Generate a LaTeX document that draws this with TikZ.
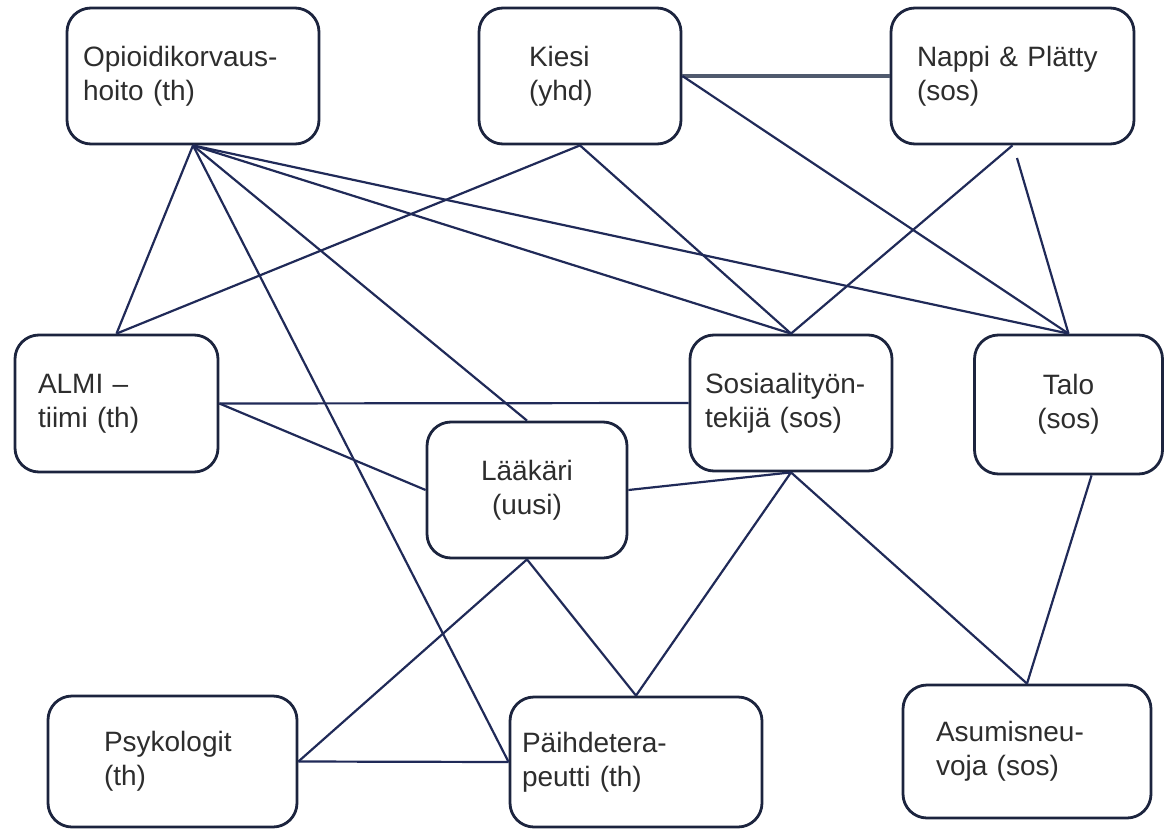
\documentclass[tikz,border=0pt]{standalone}
\usepackage{fontspec}
\setmainfont{Liberation Sans}
\usepackage{tikz}
\definecolor{linkcol}{RGB}{32,42,88}
\definecolor{boxcol}{RGB}{28,36,62}
\definecolor{textcol}{RGB}{45,45,45}
\definecolor{graylink}{RGB}{80,90,110}

\begin{document}
\begin{tikzpicture}[x=0.5pt, y=-0.5pt,
    box/.style={draw=boxcol, line width=1.4pt, rounded corners=12pt, text=textcol,
      font=\fontsize{14pt}{17pt}\selectfont, inner ysep=0pt, minimum height=68pt},
    link/.style={draw=linkcol, line width=1.1pt}]
    \useasboundingbox (0,0) rectangle (1166,829);
    % top row
    \node (opio) [box, align=left, text width=110pt, inner xsep=8pt] at (193,76) {Opioidikorvaus-\\hoito (th)};
    \node (kiesi) [box, align=left, text width=51pt, inner xsep=25pt] at (580,76) {Kiesi\\(yhd)};
    \node (nappi) [box, align=left, text width=95.5pt, inner xsep=13pt] at (1012.5,76) {Nappi \& Plätty\\(sos)};
    % middle row
    \node (almi) [box, align=left, text width=78.5pt, inner xsep=11.5pt, minimum height=68.5pt] at (116.5,403.5) {ALMI --\\tiimi (th)};
    \node (sos) [box, align=left, text width=86pt, inner xsep=7.5pt] at (791,403) {Sosiaalityön-\\tekijä (sos)};
    \node (talo) [box, align=center, minimum width=94pt, minimum height=69.5pt] at (1068.5,404.5) {Talo\\(sos)};
    \node (laakari) [box, align=center, minimum width=100pt] at (527,490) {Lääkäri\\(uusi)};
    % bottom row
    \node (psyk) [box, align=left, text width=68.5pt, inner xsep=28pt, minimum height=65.5pt] at (172.5,761.5) {Psykologit\\(th)};
    \node (paihde) [box, align=left, text width=114pt, inner xsep=6pt, minimum height=65pt] at (636,762) {Päihdetera-\\peutti (th)};
    \node (asumis) [box, align=left, text width=91pt, inner xsep=16.5pt, minimum height=66.5pt] at (1027,751.5) {Asumisneu-\\voja (sos)};
    \coordinate (nappigap) at (1017,158);

    \path[draw=graylink, line width=2pt] (kiesi.east) edge (nappi.west);
    \path[link] (opio.south) edge (almi.north);
    \path[link] (opio.south) edge (laakari.north);
    \path[link] (opio.south) edge (paihde.west);
    \path[link] (opio.south) edge (sos.north);
    \path[link] (opio.south) edge (talo.north);
    \path[link] (kiesi.south) edge (almi.north);
    \path[link] (kiesi.south) edge (sos.north);
    \path[link] (kiesi.east) edge (talo.north);
    \path[link] (nappi.south) edge (sos.north);
    \path[link] (nappigap) edge (talo.north);
    \path[link] (almi.east) edge (sos.west);
    \path[link] (almi.east) edge (laakari.west);
    \path[link] (laakari.east) edge (sos.south);
    \path[link] (laakari.south) edge (psyk.east);
    \path[link] (laakari.south) edge (paihde.north);
    \path[link] (sos.south) edge (paihde.north);
    \path[link] (sos.south) edge (asumis.north);
    \path[link] (talo.-72) edge (asumis.north);
    \path[link] (psyk.east) edge (paihde.west);
\end{tikzpicture}
\end{document}
